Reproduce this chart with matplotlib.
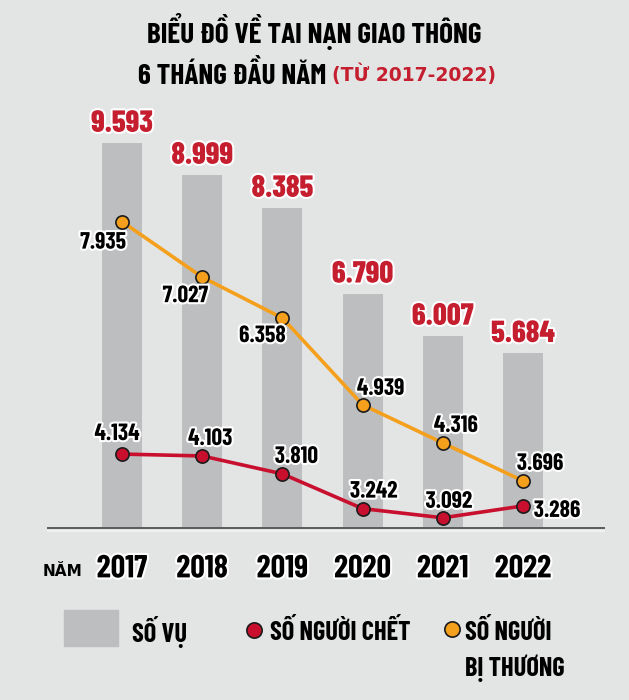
import matplotlib.pyplot as plt
import matplotlib.patheffects as pe
from matplotlib.patches import Rectangle
from matplotlib.lines import Line2D

# data
years = ['2017', '2018', '2019', '2020', '2021', '2022']
so_vu = [9593, 8999, 8385, 6790, 6007, 5684]
nguoi_chet = [4134, 4103, 3810, 3242, 3092, 3286]
nguoi_bi_thuong = [7935, 7027, 6358, 4939, 4316, 3696]

BG = '#e3e4e4'
BAR = '#bdbec0'
RED = '#c8102e'
RED_TXT = '#c41e2f'
ORANGE = '#f5a01c'
COND = ['Barlow Condensed', 'DejaVu Sans']
WIDE = ['DejaVu Sans']
halo = [pe.withStroke(linewidth=3, foreground='white')]

W, H = 629, 700


def fmt(v):
    return f"{v:,}".replace(",", ".")


def fx(px):
    return px / W


def fy(py):
    return 1 - py / H


def ctext(x, y, s, size, **kw):
    # condensed bold text in figure pixels
    return fig.text(fx(x), fy(y), s, fontsize=size, fontweight='bold',
                    fontstretch='condensed', family=COND, **kw)


fig = plt.figure(figsize=(W / 100, H / 100), dpi=100)
fig.patch.set_facecolor(BG)

ax = fig.add_axes([fx(48), fy(528), (604 - 48) / W, (528 - 100) / H])
ax.set_facecolor('none')
x = list(range(len(years)))
ax.bar(x, so_vu, width=0.5, color=BAR, zorder=1)
ax.set_xlim(-0.923, 6.01)
ax.set_ylim(2431, 10388)
for s in ['top', 'right', 'left']:
    ax.spines[s].set_visible(False)
ax.spines['bottom'].set_color('#5a5a5a')
ax.spines['bottom'].set_linewidth(1.4)
ax.set_yticks([])
ax.set_xticks(x)
ax.set_xticklabels(years, fontsize=23, fontweight='bold', fontstretch='condensed', family=COND)
ax.tick_params(axis='x', length=0, pad=19)
for t in ax.get_xticklabels():
    t.set_path_effects(halo)

# light line under the baseline
fig.add_artist(Line2D([fx(48), fx(604)], [fy(530.5), fy(530.5)], color='#f4f4f4',
                      lw=1.2, transform=fig.transFigure))

for i, v in enumerate(so_vu):
    ax.annotate(fmt(v), (i, v), xytext=(0, 5), textcoords='offset pixels',
                ha='center', va='bottom', fontsize=22, fontweight='heavy',
                fontstretch='condensed', color=RED_TXT, family=COND, path_effects=halo)

# lines on their own scale
ax2 = ax.twinx()
ax2.set_ylim(2925, 9924)
ax2.set_axis_off()
ax2.plot(x, nguoi_bi_thuong, color=ORANGE, lw=2.6, marker='o', ms=9.5,
         mfc=ORANGE, mec='#1b1b1b', mew=1.2, zorder=3)
ax2.plot(x, nguoi_chet, color=RED, lw=2.6, marker='o', ms=9.5,
         mfc=RED, mec='#1b1b1b', mew=1.2, zorder=3)

off_orange = [(-19, -21), (-17, -19), (-20, -18), (18, 16), (13, 17), (17, 17)]
off_red = [(-5, 20), (8, 17), (14, 17), (11, 17), (6, 16), (34, -5)]
for i, v in enumerate(nguoi_bi_thuong):
    ax2.annotate(fmt(v), (i, v), xytext=off_orange[i], textcoords='offset pixels',
                 ha='center', va='center', fontsize=17, fontweight='bold',
                 fontstretch='condensed', family=COND, path_effects=halo, zorder=5)
for i, v in enumerate(nguoi_chet):
    ax2.annotate(fmt(v), (i, v), xytext=off_red[i], textcoords='offset pixels',
                 ha='center', va='center', fontsize=17, fontweight='bold',
                 fontstretch='condensed', family=COND, path_effects=halo, zorder=5)

# title
ctext(314, 32, 'BIỂU ĐỒ VỀ TAI NẠN GIAO THÔNG', 21, ha='center', va='center')
ctext(326, 84, '6 THÁNG ĐẦU NĂM', 21, ha='right', va='baseline')
fig.text(fx(332), fy(81), '(TỪ 2017-2022)', ha='left', va='baseline',
         fontsize=13.5, fontweight='bold', family=WIDE, color=RED_TXT)

fig.text(fx(62), fy(571), 'NĂM', ha='center', va='center',
         fontsize=11, fontweight='bold', family=WIDE)

# legend
fig.add_artist(Rectangle((fx(64), fy(646)), (118 - 64) / W, 36 / H,
                         transform=fig.transFigure, color=BAR))
ctext(132, 632, 'SỐ VỤ', 19, ha='left', va='center')
fig.add_artist(Line2D([fx(254)], [fy(630)], marker='o', ms=11, mfc=RED,
                      mec='#1b1b1b', mew=1.2, transform=fig.transFigure))
ctext(270, 632, 'SỐ NGƯỜI CHẾT', 19, ha='left', va='center')
fig.add_artist(Line2D([fx(452)], [fy(629)], marker='o', ms=11, mfc=ORANGE,
                      mec='#1b1b1b', mew=1.2, transform=fig.transFigure))
ctext(465, 632, 'SỐ NGƯỜI', 19, ha='left', va='center')
ctext(465, 668, 'BỊ THƯƠNG', 19, ha='left', va='center')

fig.savefig('out.png', dpi=100, facecolor=BG)
